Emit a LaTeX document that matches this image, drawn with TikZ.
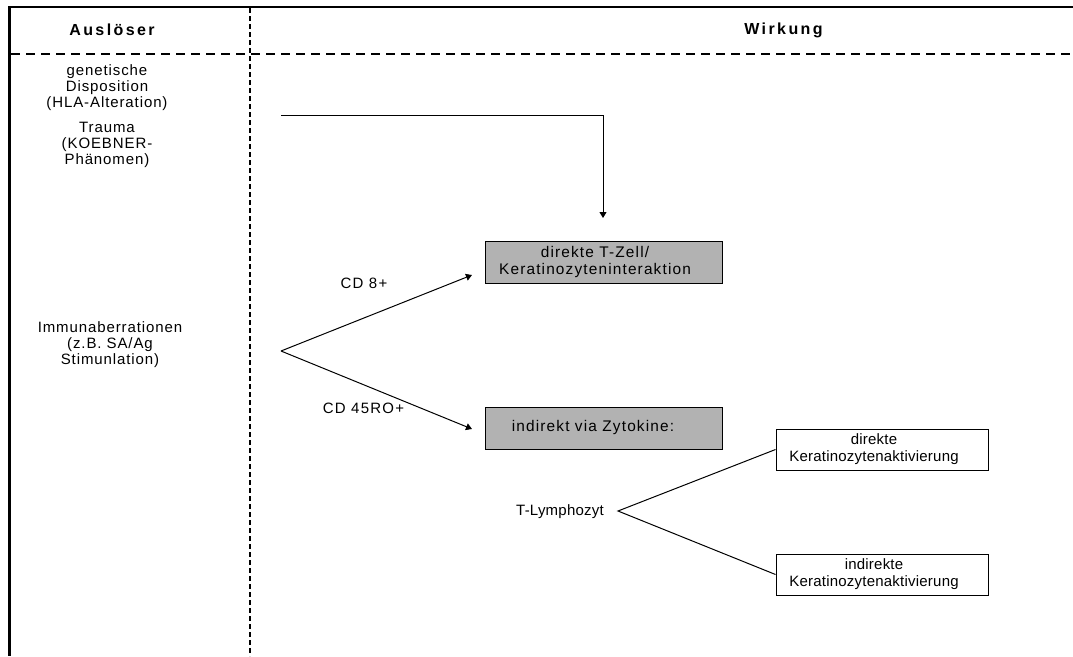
\documentclass[tikz,border=0pt]{standalone}
\usepackage{fontspec}
\setmainfont{Liberation Sans}
\newfontfamily\leftfont[LetterSpace=6]{Liberation Sans}
\newfontfamily\cdfont[LetterSpace=8.5]{Liberation Sans}
\newfontfamily\tlfont[LetterSpace=1.5]{Liberation Sans}
\newfontfamily\grayfont[LetterSpace=7.5]{Liberation Sans}
\newfontfamily\headfont[LetterSpace=15]{Liberation Sans}
\usetikzlibrary{arrows.meta}
\definecolor{boxgray}{RGB}{178,178,178}
\tikzset{
  txt/.style={inner sep=0pt, align=center, font=\leftfont\fontsize{15}{16}\selectfont},
  cdtxt/.style={inner sep=0pt, font=\cdfont\fontsize{15}{16}\selectfont},
  wtxt/.style={inner sep=0pt, align=center, font=\tlfont\fontsize{15}{17.5}\selectfont},
  gtxt/.style={inner sep=0pt, align=center, font=\grayfont\fontsize{15.4}{17}\selectfont},
  head/.style={inner sep=0pt, font=\headfont\bfseries\fontsize{16}{18}\selectfont},
  graybox/.style={draw, fill=boxgray, line width=1pt, minimum width=237pt, minimum height=42pt, inner sep=0pt},
  whitebox/.style={draw, fill=white, line width=1pt, minimum width=212pt, minimum height=41pt, inner sep=0pt},
  frame/.style={line width=2.6pt},
  hdash/.style={line width=1.1pt, dash pattern=on 9pt off 6pt},
  vdash/.style={line width=1.1pt, dash pattern=on 5pt off 3pt},
  conn/.style={line width=1pt},
  arr/.style={conn, -{Triangle[length=6pt,width=7pt]}}
}
\begin{document}
\begin{tikzpicture}[x=1pt,y=-1pt]
\useasboundingbox (0,0) rectangle (1073,656);
% frame
\coordinate (ftl) at (9.5,7);
\coordinate (ftr) at (1073,7);
\coordinate (fbl) at (9.5,656);
\draw[frame] (ftr) -- (ftl) -- (fbl);
% dashed separators
\coordinate (vt) at (250,8);
\coordinate (vb) at (250,656);
\coordinate (hl) at (11,54);
\coordinate (hr) at (1073,54);
\draw[vdash] (vt) -- (vb);
\draw[hdash] (hl) -- (hr);
% headers
\node[head] (h1) at (112,30) {Auslöser};
\node[head] (h2) at (783.5,30) {Wirkung};
% left column
\node[txt] (gen) at (107,88) {genetische\\Disposition\\(HLA-Alteration)};
\node[txt] (trau) at (107,144.5) {Trauma\\(KOEBNER-\\Phänomen)};
\node[txt] (imm) at (110,345) {Immunaberrationen\\(z.B. SA/Ag\\Stimunlation)};
% boxes
\node[graybox] (b1) at (603.5,262) {};
\node[gtxt] (b1t) at (595,262) {direkte T-Zell/\\Keratinozyteninteraktion};
\node[graybox] (b2) at (603.5,428.5) {};
\node[gtxt] (b2t) at (593,428) {indirekt via Zytokine:};
\node[whitebox] (b3) at (882,449.5) {};
\node[wtxt] (b3t) at (874,449) {direkte\\Keratinozytenaktivierung};
\node[whitebox] (b4) at (882,574.5) {};
\node[wtxt] (b4t) at (874,574) {indirekte\\Keratinozytenaktivierung};
% labels
\node[cdtxt] (cd8) at (364,283) {CD 8+};
\node[cdtxt] (cd45) at (363.5,408) {CD 45RO+};
\node[wtxt] (tl) at (560,512) {T-Lymphozyt};
% top connector
\coordinate (ts) at (281,115);
\coordinate (tc) at (603,115);
\coordinate (te) at (603,218);
\draw[arr] (ts) -- (tc) -- (te);
% fork
\coordinate (v1) at (281,351);
\coordinate (a1) at (472,275);
\coordinate (a2) at (472,429);
\draw[arr] (v1) -- (a1);
\draw[arr] (v1) -- (a2);
% T-Lymphozyt fork
\coordinate (v2) at (618,511);
\draw[conn] (b3.west) -- (v2) -- (b4.west);
\end{tikzpicture}
\end{document}
